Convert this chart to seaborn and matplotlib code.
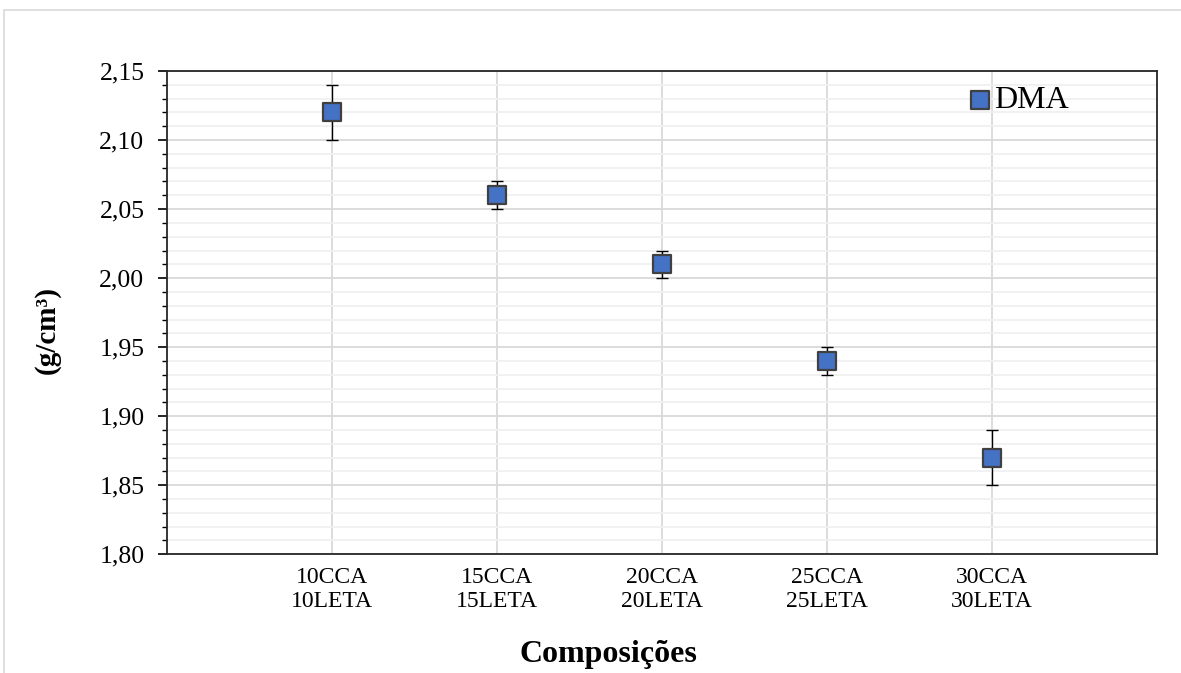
import numpy as np
import pandas as pd
import matplotlib
matplotlib.use("Agg")
import matplotlib.pyplot as plt
from matplotlib.ticker import MultipleLocator, FuncFormatter
from matplotlib.patches import Rectangle
import seaborn as sns

# ---- data ----
categories = ["10CCA\n10LETA", "15CCA\n15LETA", "20CCA\n20LETA", "25CCA\n25LETA", "30CCA\n30LETA"]
density = [2.12, 2.06, 2.01, 1.94, 1.87]
density_err = [0.02, 0.01, 0.01, 0.01, 0.02]
series_name = "DMA"

sns.set_theme(style="white")
plt.rcParams["font.family"] = ["Liberation Serif", "DejaVu Serif"]
plt.rcParams["text.color"] = "black"
plt.rcParams["axes.labelcolor"] = "black"
plt.rcParams["xtick.color"] = "black"
plt.rcParams["ytick.color"] = "black"

W, H = 1181, 673
fig = plt.figure(figsize=(W / 100, H / 100), dpi=100)
ax = fig.add_axes([167.3 / W, 1 - 554.3 / H, (1156.7 - 167.3) / W, (554.3 - 71) / H])

# outer light border of the chart area
fig.patches.append(Rectangle((4 / W, -0.1), 1.2, 1 - 10 / H + 0.1, transform=fig.transFigure,
                             fill=False, edgecolor="#d9d9d9", linewidth=1.2, zorder=0))

df = pd.DataFrame({"pos": np.arange(1, len(categories) + 1), "density": density, "err": density_err})

ax.errorbar(df["pos"], df["density"], yerr=df["err"], fmt="none", ecolor="black",
            elinewidth=1.0, capsize=4.5, capthick=1.0, zorder=3)
sns.scatterplot(data=df, x="pos", y="density", marker="s", s=180, color="#4472C4",
                edgecolor="#404040", linewidth=1.6, label=series_name, zorder=4, ax=ax)

ax.set_xlim(0, len(categories) + 1)
ax.set_ylim(1.80, 2.15)
ax.set_xticks(df["pos"])
ax.set_xticklabels(categories, fontsize=17, linespacing=1.2, color="black")
ax.yaxis.set_major_locator(MultipleLocator(0.05))
ax.yaxis.set_minor_locator(MultipleLocator(0.01))
ax.yaxis.set_major_formatter(FuncFormatter(lambda v, p: f"{v:.2f}".replace(".", ",")))
ax.tick_params(axis="y", which="major", direction="out", length=6.5, width=1.2, color="black",
               pad=10, labelsize=18.5, labelcolor="black", left=True)
ax.tick_params(axis="y", which="minor", direction="out", length=3.5, width=1.0, color="black", left=True)
ax.tick_params(axis="x", which="both", length=0, pad=9, labelsize=17, labelcolor="black")

ax.grid(False)
ax.yaxis.grid(True, which="major", color="#d9d9d9", linewidth=1.3, zorder=0)
ax.yaxis.grid(True, which="minor", color="#f0f0f0", linewidth=1.3, zorder=0)
ax.xaxis.grid(True, which="major", color="#d9d9d9", linewidth=1.3, zorder=0)
ax.set_axisbelow(True)

for side in ["left", "right", "top", "bottom"]:
    ax.spines[side].set_visible(True)
    ax.spines[side].set_color("#262626")
    ax.spines[side].set_linewidth(1.3)

ax.set_xlabel("Composições", fontsize=23, fontweight="bold", va="baseline", color="black")
ax.xaxis.set_label_coords(0.4454, -0.223)
ax.set_ylabel("(g/cm³)", fontsize=21, fontweight="bold", va="center", color="black")
ax.yaxis.set_label_coords(-0.1216, 0.464)

leg = ax.legend(loc="center left", bbox_to_anchor=(0.808, 0.939), frameon=False,
                fontsize=23, handlelength=0.8, handletextpad=0.05, borderpad=0, borderaxespad=0,
                markerscale=1.0, labelcolor="black")

fig.savefig("out.png", dpi=100)
